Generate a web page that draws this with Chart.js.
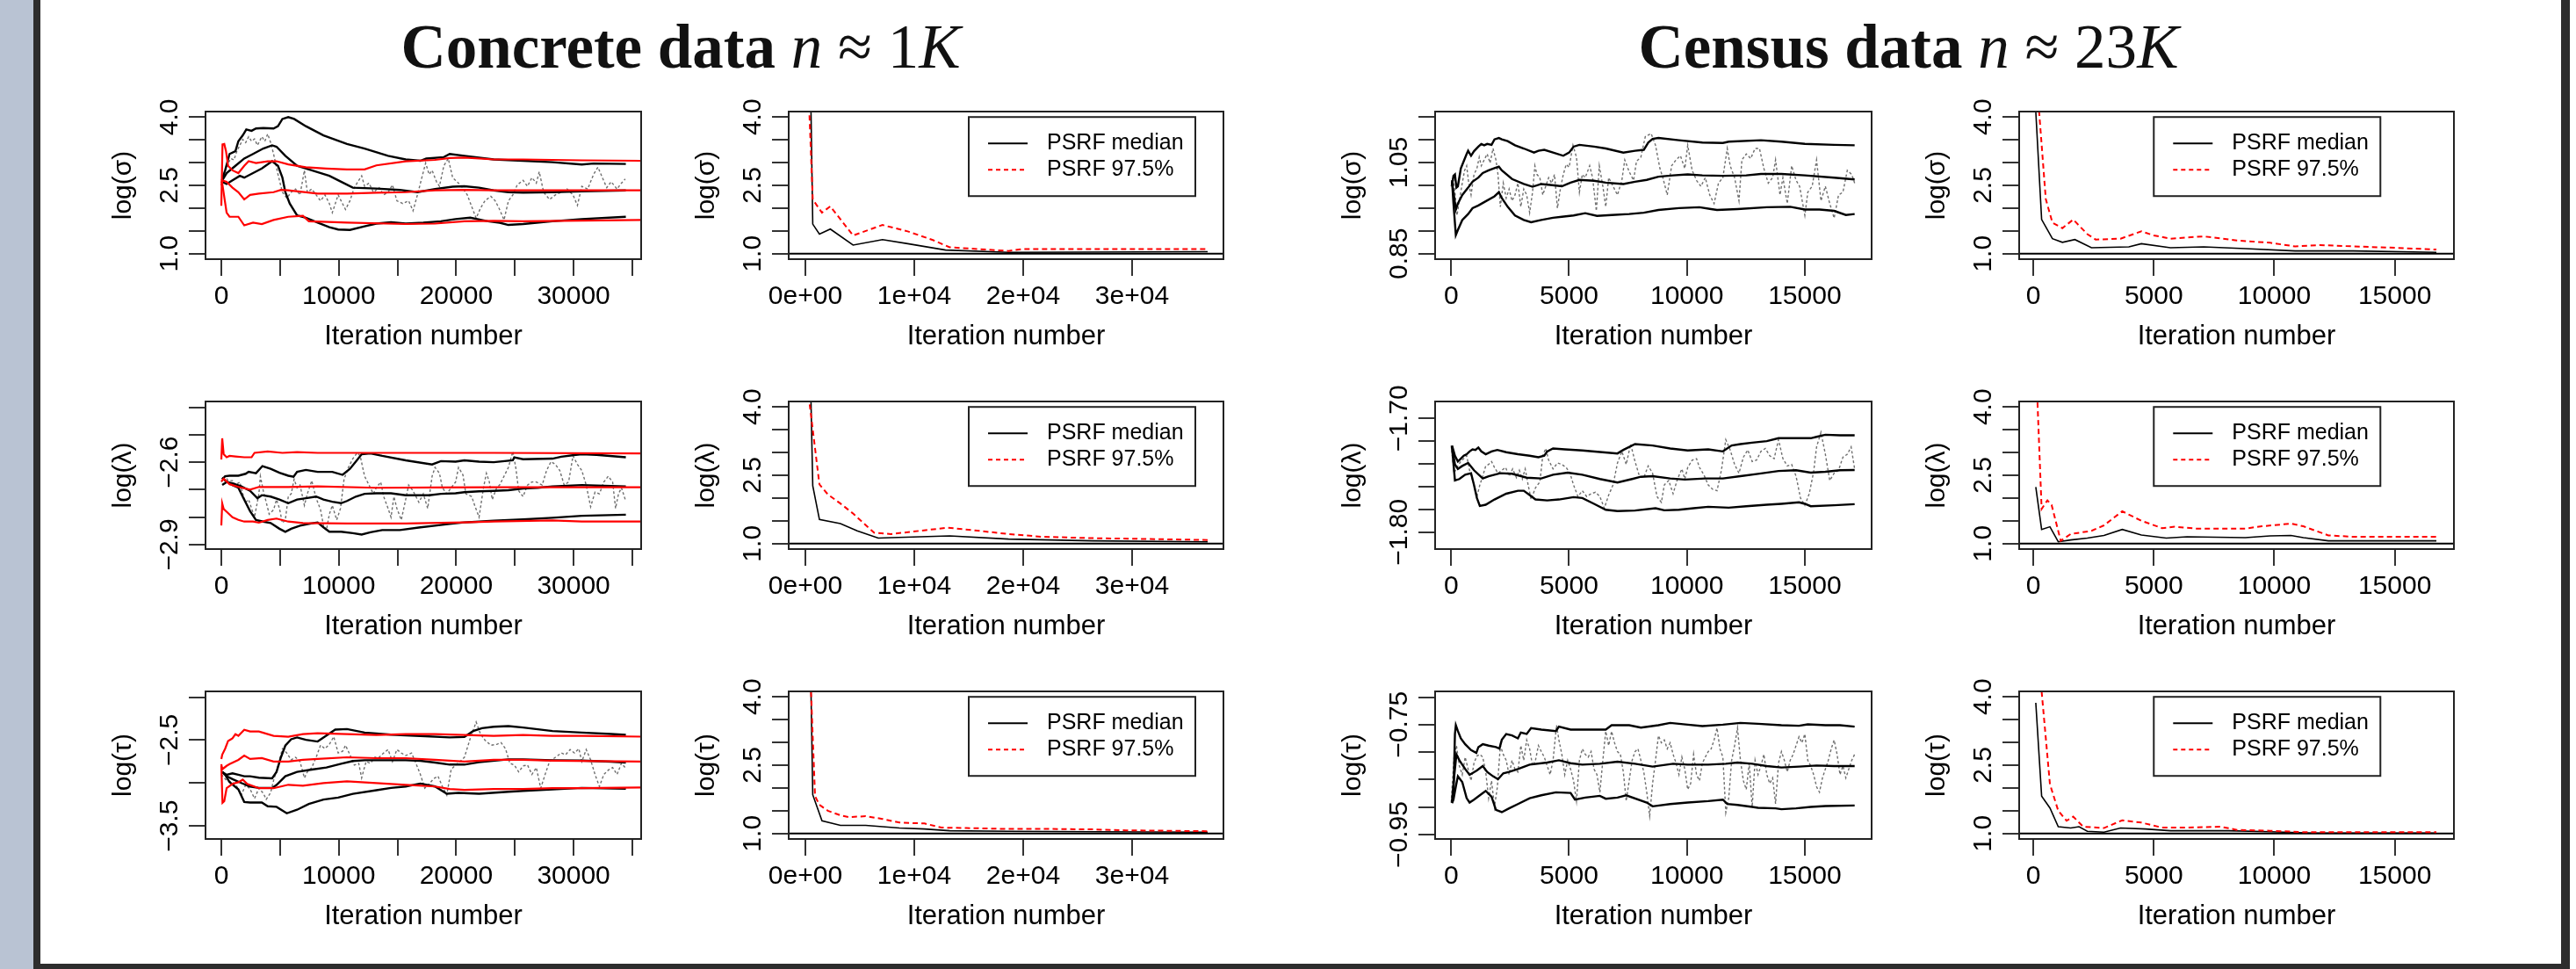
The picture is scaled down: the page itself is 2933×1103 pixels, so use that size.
<!DOCTYPE html>
<html>
<head>
<meta charset="utf-8">
<script src="https://cdn.jsdelivr.net/npm/chart.js@4.4.1/dist/chart.umd.min.js"></script>
<style>
  body { margin: 0; width: 2933px; height: 1103px; background: #fff; position: relative; overflow: hidden; }
  .bar { position: absolute; background: #2d2d2d; }
  #strip { position: absolute; left: 0; top: 0; width: 38px; height: 1103px; background: #b9c3d3; }
  .ttl { position: absolute; top: 18px; width: 900px; text-align: center; white-space: nowrap;
         font-family: "Liberation Serif", "Times New Roman", serif; font-size: 71px; line-height: 71px; color: #111; }
  .ttl b { font-weight: bold; }
  canvas { position: absolute; }
</style>
</head>
<body>
<div id="strip"></div>
<div class="bar" style="left:38px;top:0;width:8px;height:1103px"></div>
<div class="bar" style="left:2916px;top:0;width:10px;height:1103px"></div>
<div class="bar" style="left:38px;top:1097px;width:2888px;height:6px"></div>
<div class="ttl" style="left:325px"><b>Concrete data</b> <i>n</i> ≈ 1<i>K</i></div>
<div class="ttl" style="left:1723px"><b>Census data</b> <i>n</i> ≈ 23<i>K</i></div>

<script>
// ---------- tick values / labels ----------
const psrfTicks = [1, 1.5, 2, 2.5, 3, 3.5, 4];
const psrfTickLabels = ['1.0', '', '', '2.5', '', '', '4.0'];
const conLamTicks = [-2.9, -2.8, -2.7, -2.6, -2.5, -2.4];
const conLamTickLabels = ['−2.9', '', '', '−2.6', '', ''];
const conTauTicks = [-3.5, -3.0, -2.5, -2.0];
const conTauTickLabels = ['−3.5', '', '−2.5', ''];
const cenSigTicks = [0.85, 0.90, 0.95, 1.00, 1.05, 1.10, 1.15];
const cenSigTickLabels = ['0.85', '', '', '', '1.05', '', ''];
const cenLamTicks = [-1.80, -1.78, -1.76, -1.74, -1.72, -1.70];
const cenLamTickLabels = ['−1.80', '', '', '', '', '−1.70'];
const cenTauTicks = [-0.95, -0.90, -0.85, -0.80, -0.75, -0.70];
const cenTauTickLabels = ['−0.95', '', '', '', '−0.75', ''];

const concreteIterTicks = [0, 5000, 10000, 15000, 20000, 25000, 30000, 35000];
const concreteIterLabels = ['0', '', '10000', '', '20000', '', '30000', ''];
const concretePsrfIterTicks = [0, 10000, 20000, 30000];
const concretePsrfIterLabels = ['0e+00', '1e+04', '2e+04', '3e+04'];
const censusIterTicks = [0, 5000, 10000, 15000];
const censusIterLabels = ['0', '5000', '10000', '15000'];

const legendNames = ['PSRF median', 'PSRF 97.5%'];

// ---------- Concrete, log(sigma) ----------
const conSigTrace = [[0,2.61],[200,2.74],[575,2.99],[825,3.09],[1075,3.06],[1325,3.25],[1575,3.38],[1825,3.51],[2075,3.44],[2325,3.57],[2575,3.47],[2825,3.52],[3075,3.38],[3450,3.57],[3700,3.47],[3950,3.63],[4200,3.44],[4450,3.19],[4825,2.74],[5200,2.35],[5575,2.22],[5950,2.35],[6325,2.42],[6700,2.29],[7075,2.83],[7325,2.35],[7700,2.42],[8075,2.29],[8450,2.16],[8825,2.29],[9200,2.10],[9450,1.90],[9950,2.29],[10200,2.16],[10575,1.97],[10950,2.16],[11325,2.45],[11700,2.61],[11950,2.71],[12200,2.48],[12575,2.55],[12950,2.35],[13450,2.45],[13825,2.29],[14200,2.35],[14575,2.51],[14950,2.16],[15450,2.10],[15950,2.16],[16325,1.94],[16700,2.29],[17075,2.67],[17400,2.99],[17700,2.74],[17950,2.83],[18325,2.58],[18575,2.48],[18950,2.93],[19325,3.09],[19700,2.67],[20075,2.58],[20450,2.48],[20950,2.29],[21325,2.03],[21700,1.78],[22075,2.00],[22450,2.16],[22950,2.26],[23325,2.16],[23700,1.97],[24075,1.74],[24450,2.16],[24825,2.29],[25200,2.51],[25700,2.61],[26075,2.48],[26450,2.67],[26825,2.55],[27075,2.80],[27450,2.35],[27950,2.19],[28450,2.29],[28950,2.35],[29450,2.42],[29950,2.29],[30325,2.06],[30700,2.48],[31200,2.42],[31700,2.74],[32075,2.90],[32450,2.67],[32825,2.45],[33200,2.58],[33700,2.42],[34075,2.55],[34400,2.64]];
const conSigHi = [[75,2.64],[325,2.83],[700,3.19],[1200,3.25],[1450,3.47],[1825,3.60],[2125,3.73],[2575,3.70],[2950,3.75],[3575,3.76],[4450,3.75],[4825,3.80],[5200,3.96],[5700,4.00],[6200,3.96],[7200,3.80],[8700,3.60],[10700,3.41],[12200,3.31],[14200,3.15],[15700,3.07],[16950,3.04],[17450,3.09],[18950,3.12],[19450,3.19],[20700,3.15],[23200,3.07],[25700,3.04],[28200,3.01],[30700,2.96],[31700,2.98],[34450,2.97]];
const conSigMid = [[75,2.61],[450,2.77],[1200,2.93],[1950,3.09],[2700,3.19],[3575,3.31],[4325,3.38],[4700,3.35],[5450,3.15],[6450,2.93],[7700,2.83],[9200,2.71],[10200,2.58],[11200,2.45],[13200,2.43],[15200,2.40],[16700,2.35],[18200,2.42],[19700,2.47],[20700,2.48],[21950,2.45],[23200,2.39],[24450,2.35],[25700,2.34],[28200,2.35],[30700,2.37],[34450,2.39]];
const conSigLo = [[75,2.58],[450,2.53],[950,2.61],[1575,2.71],[1950,2.67],[2700,2.77],[3450,2.87],[4325,3.03],[4825,2.93],[5200,2.67],[5450,2.35],[5825,2.10],[6450,1.84],[7200,1.79],[8200,1.68],[9200,1.58],[9950,1.53],[10950,1.52],[12200,1.60],[13200,1.66],[14450,1.69],[15700,1.66],[17200,1.68],[18700,1.71],[19950,1.76],[21200,1.79],[22700,1.71],[23700,1.68],[24450,1.63],[25700,1.65],[28200,1.71],[30700,1.76],[34450,1.81]];
const conSigRedHi = [[0,2.05],[100,3.40],[250,3.41],[400,3.25],[575,2.93],[950,2.83],[1450,2.77],[1950,2.93],[2325,3.03],[2950,2.99],[3950,3.03],[4700,3.03],[5700,2.96],[7200,2.90],[8950,2.87],[10700,2.85],[12200,2.85],[13200,2.94],[15700,3.03],[18200,3.06],[19450,3.10],[20700,3.11],[23200,3.07],[25700,3.07],[28200,3.06],[30700,3.05],[36000,3.04]];
const conSigRedMid = [[0,2.55],[75,2.61],[450,2.58],[950,2.45],[1450,2.35],[1950,2.19],[2450,2.29],[3200,2.32],[4450,2.35],[5075,2.40],[5700,2.39],[8200,2.32],[10700,2.32],[13200,2.34],[15700,2.35],[18200,2.39],[20700,2.40],[23200,2.39],[36000,2.39]];
const conSigRedLo = [[0,2.50],[75,2.55],[450,1.90],[700,1.81],[1450,1.81],[1950,1.62],[2700,1.68],[3450,1.65],[4450,1.74],[5700,1.81],[6950,1.83],[7450,1.71],[10700,1.68],[15700,1.65],[18200,1.66],[20700,1.71],[23200,1.72],[25700,1.71],[36000,1.74]];
const conSigPsrfMed = [[400,5.9],[677,1.65],[1290,1.43],[2290,1.54],[4379,1.19],[7081,1.31],[9395,1.22],[12871,1.08],[18653,1.03],[36935,1.045]];
const conSigPsrf975 = [[250,4.81],[677,2.19],[1524,1.90],[2290,2.04],[4379,1.40],[7081,1.63],[9395,1.49],[11710,1.30],[13250,1.14],[18653,1.06],[19814,1.10],[36935,1.10]];

// ---------- Concrete, log(lambda) ----------
const conLamTrace = [[0,-2.672],[325,-2.651],[575,-2.667],[950,-2.667],[1200,-2.683],[1575,-2.672],[1825,-2.715],[2075,-2.746],[2325,-2.736],[2575,-2.768],[2825,-2.80],[3200,-2.715],[3325,-2.651],[3575,-2.704],[3825,-2.746],[4075,-2.789],[4450,-2.773],[4700,-2.736],[4950,-2.768],[5200,-2.821],[5450,-2.81],[5700,-2.725],[5950,-2.715],[6200,-2.662],[6450,-2.693],[6700,-2.683],[7075,-2.757],[7325,-2.715],[7700,-2.667],[8075,-2.731],[8450,-2.773],[8700,-2.831],[8950,-2.847],[9200,-2.789],[9450,-2.757],[9825,-2.81],[10150,-2.768],[10450,-2.662],[10825,-2.619],[11200,-2.587],[11575,-2.566],[11825,-2.577],[12200,-2.651],[12575,-2.683],[12950,-2.715],[13200,-2.693],[13575,-2.672],[13825,-2.725],[14200,-2.768],[14450,-2.80],[14700,-2.725],[14950,-2.768],[15325,-2.81],[15700,-2.736],[15950,-2.683],[16325,-2.704],[16825,-2.746],[17200,-2.715],[17575,-2.768],[17950,-2.651],[18200,-2.619],[18575,-2.640],[18825,-2.693],[19200,-2.715],[19575,-2.693],[19950,-2.672],[20200,-2.619],[20575,-2.646],[20825,-2.715],[21325,-2.725],[21575,-2.757],[21950,-2.80],[22325,-2.693],[22575,-2.640],[22825,-2.672],[23075,-2.736],[23450,-2.693],[23700,-2.683],[24075,-2.651],[24450,-2.619],[24825,-2.561],[25075,-2.619],[25325,-2.704],[25700,-2.725],[26075,-2.683],[26450,-2.672],[26825,-2.672],[27325,-2.683],[27700,-2.630],[28075,-2.598],[28450,-2.608],[28825,-2.630],[29200,-2.683],[29575,-2.672],[29950,-2.577],[30325,-2.608],[30700,-2.630],[31075,-2.683],[31450,-2.762],[31825,-2.709],[32200,-2.715],[32575,-2.672],[32950,-2.651],[33325,-2.672],[33575,-2.768],[33825,-2.715],[34075,-2.693],[34400,-2.736]];
const conLamHi = [[75,-2.662],[325,-2.651],[700,-2.649],[1450,-2.649],[2075,-2.642],[2325,-2.635],[2950,-2.640],[3500,-2.614],[4200,-2.624],[4950,-2.638],[5700,-2.649],[6150,-2.653],[6450,-2.635],[7200,-2.628],[8200,-2.635],[9450,-2.635],[10325,-2.646],[10950,-2.624],[11450,-2.598],[11950,-2.571],[12700,-2.568],[13700,-2.577],[15700,-2.593],[17950,-2.608],[18700,-2.596],[19950,-2.598],[20700,-2.593],[21950,-2.598],[23200,-2.600],[24825,-2.593],[24950,-2.582],[25700,-2.589],[28200,-2.587],[28950,-2.580],[30200,-2.573],[30700,-2.571],[31950,-2.573],[34450,-2.582]];
const conLamMid = [[75,-2.683],[450,-2.672],[950,-2.677],[1700,-2.688],[2450,-2.704],[3075,-2.731],[3450,-2.720],[4200,-2.725],[4950,-2.736],[5700,-2.749],[6450,-2.736],[7200,-2.731],[8075,-2.725],[8700,-2.736],[9450,-2.744],[10200,-2.749],[10700,-2.741],[11450,-2.725],[12200,-2.715],[13200,-2.713],[14450,-2.713],[15700,-2.720],[17700,-2.720],[18700,-2.715],[19950,-2.713],[20700,-2.709],[21950,-2.706],[23200,-2.704],[24450,-2.702],[25700,-2.696],[26950,-2.693],[28200,-2.688],[29450,-2.686],[30700,-2.683],[31950,-2.685],[34450,-2.688]];
const conLamLo = [[75,-2.656],[325,-2.667],[950,-2.683],[1450,-2.693],[1950,-2.736],[2450,-2.778],[2950,-2.81],[3575,-2.816],[4200,-2.821],[4950,-2.842],[5450,-2.853],[5950,-2.842],[6700,-2.831],[7450,-2.824],[8200,-2.819],[8700,-2.837],[9200,-2.853],[10200,-2.853],[11200,-2.858],[11950,-2.863],[12700,-2.855],[13700,-2.847],[15200,-2.847],[16950,-2.837],[18200,-2.831],[19450,-2.824],[20700,-2.819],[21950,-2.816],[23200,-2.813],[25700,-2.808],[28200,-2.802],[30700,-2.795],[34450,-2.791]];
const conLamRedHi = [[0,-2.59],[75,-2.513],[200,-2.571],[450,-2.582],[700,-2.577],[1200,-2.579],[1950,-2.582],[2575,-2.582],[2825,-2.566],[3950,-2.561],[5200,-2.566],[6450,-2.563],[8200,-2.566],[10700,-2.566],[15700,-2.566],[23200,-2.566],[36000,-2.568]];
const conLamRedMid = [[0,-2.67],[200,-2.66],[700,-2.68],[1450,-2.69],[2450,-2.70],[3200,-2.69],[5700,-2.69],[8200,-2.688],[13200,-2.693],[18200,-2.692],[23200,-2.691],[36000,-2.691]];
const conLamRedLo = [[0,-2.83],[75,-2.75],[200,-2.77],[450,-2.78],[950,-2.80],[1450,-2.81],[1950,-2.816],[2700,-2.816],[3200,-2.82],[3950,-2.81],[4700,-2.805],[5700,-2.816],[6950,-2.821],[10700,-2.823],[15700,-2.823],[20700,-2.819],[23200,-2.816],[28200,-2.812],[30700,-2.816],[36000,-2.816]];
const conLamPsrfMed = [[400,5.45],[677,2.27],[1290,1.53],[3218,1.44],[4758,1.28],[6694,1.12],[7855,1.13],[13250,1.17],[18653,1.10],[26370,1.06],[36935,1.04]];
const conLamPsrf975 = [[200,4.44],[1290,2.30],[2064,2.08],[3218,1.88],[4379,1.66],[6306,1.24],[7855,1.21],[13097,1.35],[15565,1.29],[18653,1.21],[21742,1.15],[26370,1.12],[36935,1.08]];

// ---------- Concrete, log(tau) ----------
const conTauTrace = [[0,-2.90],[450,-2.97],[950,-2.99],[1325,-3.04],[1700,-3.14],[2075,-3.02],[2450,-3.07],[2825,-3.18],[3200,-3.06],[3575,-3.12],[3825,-3.19],[4200,-3.11],[4450,-2.97],[4825,-2.80],[5200,-2.60],[5575,-2.65],[5950,-2.73],[6325,-2.70],[6700,-2.75],[7075,-2.94],[7325,-2.87],[7700,-2.82],[8075,-2.70],[8450,-2.56],[8825,-2.60],[9200,-2.55],[9575,-2.46],[9950,-2.65],[10325,-2.63],[10575,-2.56],[10950,-2.67],[11325,-2.79],[11700,-2.77],[11950,-2.94],[12325,-2.75],[12700,-2.77],[13075,-2.70],[13450,-2.70],[13825,-2.65],[14200,-2.61],[14575,-2.75],[14950,-2.61],[15325,-2.65],[15700,-2.68],[16200,-2.65],[16575,-2.77],[16950,-2.90],[17325,-3.06],[17700,-3.01],[18075,-2.95],[18450,-2.92],[18825,-3.04],[19200,-3.14],[19575,-2.84],[19950,-2.79],[20325,-2.75],[20700,-2.70],[21200,-2.48],[21700,-2.29],[22075,-2.43],[22450,-2.50],[22950,-2.56],[23450,-2.55],[23825,-2.53],[24200,-2.60],[24575,-2.77],[24950,-2.79],[25325,-2.87],[25700,-2.80],[26075,-2.79],[26450,-2.90],[26825,-2.82],[27200,-3.06],[27575,-2.90],[27950,-2.75],[28450,-2.70],[28950,-2.65],[29325,-2.67],[29700,-2.61],[30075,-2.65],[30450,-2.60],[30700,-2.75],[31075,-2.61],[31450,-2.73],[31825,-2.90],[32200,-3.04],[32575,-2.90],[32950,-2.85],[33325,-2.82],[33700,-2.90],[34075,-2.77],[34400,-2.82]];
const conTauHi = [[75,-2.870],[450,-2.904],[950,-2.887],[1450,-2.904],[1950,-2.921],[2450,-2.921],[3200,-2.938],[4325,-2.945],[4700,-2.870],[5075,-2.700],[5450,-2.564],[5950,-2.490],[6450,-2.469],[7200,-2.497],[8200,-2.517],[8950,-2.446],[9700,-2.378],[10700,-2.371],[12200,-2.412],[14450,-2.436],[16950,-2.452],[19450,-2.469],[20700,-2.463],[21450,-2.395],[22200,-2.361],[23200,-2.344],[24450,-2.337],[25700,-2.354],[28200,-2.395],[30700,-2.412],[33200,-2.429],[34450,-2.439]];
const conTauMid = [[75,-2.870],[450,-2.921],[950,-2.955],[1700,-2.999],[2450,-3.040],[3200,-3.057],[4325,-3.057],[4700,-3.023],[5450,-2.921],[6450,-2.870],[7700,-2.843],[8950,-2.819],[10200,-2.775],[11200,-2.744],[12200,-2.734],[13700,-2.734],[15700,-2.734],[16950,-2.741],[18200,-2.761],[19450,-2.785],[20700,-2.785],[21950,-2.758],[24450,-2.724],[25700,-2.724],[28200,-2.734],[30700,-2.738],[33200,-2.751],[34450,-2.761]];
const conTauLo = [[75,-2.870],[325,-2.904],[700,-2.989],[1450,-3.074],[1950,-3.220],[2450,-3.226],[3450,-3.226],[3950,-3.270],[4700,-3.277],[5575,-3.352],[6450,-3.311],[7450,-3.243],[8700,-3.192],[9950,-3.169],[11200,-3.125],[13200,-3.084],[14450,-3.057],[15700,-3.040],[16950,-3.006],[18200,-3.040],[19200,-3.125],[20200,-3.114],[21950,-3.125],[24450,-3.101],[25700,-3.091],[28200,-3.074],[30700,-3.057],[34450,-3.067]];
const conTauRedHi = [[0,-2.72],[75,-2.67],[325,-2.60],[575,-2.51],[700,-2.50],[950,-2.48],[1200,-2.43],[1450,-2.45],[1950,-2.38],[2450,-2.40],[3200,-2.40],[4450,-2.45],[5700,-2.46],[6950,-2.43],[8200,-2.42],[10700,-2.43],[13200,-2.44],[15700,-2.43],[18200,-2.43],[20700,-2.44],[23200,-2.45],[25700,-2.44],[28200,-2.45],[30700,-2.45],[36000,-2.46]];
const conTauRedMid = [[0,-2.78],[75,-2.84],[450,-2.80],[700,-2.78],[1450,-2.73],[1950,-2.68],[2450,-2.72],[3450,-2.71],[4450,-2.75],[5700,-2.75],[6950,-2.73],[8200,-2.72],[10700,-2.70],[13200,-2.71],[15700,-2.71],[18200,-2.73],[20700,-2.75],[23200,-2.73],[25700,-2.73],[28200,-2.74],[36000,-2.75]];
const conTauRedLo = [[0,-2.80],[100,-3.23],[250,-3.21],[450,-3.06],[950,-3.01],[1450,-2.99],[1825,-2.96],[2200,-3.01],[3200,-3.06],[4450,-3.06],[5700,-3.02],[6950,-3.03],[8700,-3.00],[10700,-2.98],[13200,-3.00],[15700,-3.02],[18200,-3.04],[19450,-3.07],[20700,-3.08],[23200,-3.07],[25700,-3.07],[28200,-3.06],[30700,-3.06],[36000,-3.05]];
const conTauPsrfMed = [[400,5.76],[677,1.85],[1524,1.28],[3218,1.18],[5532,1.18],[8629,1.12],[10935,1.10],[13250,1.06],[18653,1.05],[26370,1.04],[36935,1.03]];
const conTauPsrf975 = [[300,5.46],[887,1.82],[1290,1.63],[2064,1.50],[3218,1.40],[3992,1.36],[5532,1.38],[7081,1.32],[8629,1.24],[10935,1.22],[12484,1.13],[14798,1.12],[18653,1.10],[22500,1.10],[26370,1.09],[29450,1.07],[36935,1.05]];

// ---------- Census, log(sigma) ----------
const cenSigTrace = [[0,0.998],[75,1.017],[161,0.985],[248,0.934],[348,0.966],[472,1.005],[571,1.033],[658,1.043],[745,1.005],[845,0.979],[969,1.024],[1093,1.037],[1192,1.062],[1279,1.043],[1403,1.056],[1528,1.069],[1652,1.049],[1776,1.081],[1900,1.056],[1987,1.024],[2087,0.953],[2211,1.005],[2335,0.972],[2459,0.992],[2583,0.966],[2708,0.979],[2832,1.005],[2956,0.953],[3080,0.992],[3204,0.979],[3329,0.940],[3453,0.985],[3552,1.043],[3639,1.024],[3763,1.017],[3887,0.979],[4012,0.998],[4136,1.017],[4260,1.005],[4384,1.024],[4508,0.950],[4633,0.992],[4757,1.024],[4881,1.046],[5005,1.040],[5167,1.088],[5316,1.062],[5440,0.985],[5564,1.024],[5688,1.017],[5875,1.043],[5999,1.017],[6160,0.944],[6285,1.043],[6434,0.998],[6558,0.953],[6682,1.017],[6868,0.998],[7055,0.979],[7241,1.011],[7365,1.056],[7551,1.030],[7738,1.011],[7862,1.053],[8048,1.062],[8235,1.107],[8483,1.114],[8669,1.088],[8856,1.037],[8980,1.017],[9166,0.979],[9352,1.043],[9539,1.056],[9725,1.065],[9911,1.037],[10035,1.088],[10222,1.033],[10408,1.011],[10594,0.998],[10781,1.017],[10967,0.979],[11153,0.960],[11340,1.005],[11526,1.017],[11712,1.081],[11836,1.043],[12023,1.017],[12209,0.966],[12333,1.056],[12519,1.069],[12706,1.059],[12892,1.081],[13078,1.081],[13265,1.037],[13451,1.005],[13637,1.017],[13761,1.056],[13948,0.979],[14072,1.017],[14258,0.960],[14444,1.043],[14631,1.011],[14780,0.998],[15003,0.934],[15128,0.985],[15314,0.998],[15500,1.056],[15687,0.966],[15873,0.998],[16059,0.960],[16245,0.928],[16432,0.979],[16618,0.985],[16804,1.033],[16991,1.024],[17115,1.005]];
const cenSigHi = [[37,1.001],[99,1.021],[161,1.024],[224,0.995],[286,0.998],[410,1.037],[534,1.053],[658,1.069],[720,1.076],[845,1.065],[969,1.075],[1155,1.085],[1279,1.091],[1403,1.088],[1528,1.091],[1714,1.089],[1838,1.101],[2024,1.104],[2149,1.101],[2397,1.097],[2708,1.088],[3080,1.081],[3515,1.072],[3701,1.076],[3950,1.078],[4322,1.072],[4757,1.065],[5005,1.072],[5192,1.085],[5440,1.089],[6061,1.085],[6558,1.081],[7303,1.072],[7800,1.076],[8172,1.078],[8359,1.094],[8545,1.102],[8793,1.104],[9663,1.099],[10656,1.094],[11526,1.093],[11774,1.096],[13140,1.099],[14010,1.096],[15003,1.091],[16245,1.089],[17115,1.088]];
const cenSigMid = [[37,1.008],[99,0.985],[199,0.947],[286,0.960],[472,0.979],[720,0.995],[907,1.008],[1155,1.017],[1341,1.027],[1590,1.033],[1838,1.038],[2024,1.041],[2149,1.033],[2583,1.014],[3080,1.003],[3453,0.997],[3825,1.003],[4198,1.001],[4695,0.998],[5067,1.006],[5440,1.012],[6061,1.010],[6558,1.006],[7303,1.003],[7800,1.008],[8297,1.012],[8793,1.019],[9414,1.022],[10035,1.024],[10656,1.022],[11526,1.021],[12519,1.022],[13140,1.025],[14010,1.025],[15003,1.022],[16245,1.017],[17115,1.013]];
const cenSigLo = [[37,1.011],[99,0.960],[199,0.891],[286,0.902],[472,0.924],[720,0.937],[907,0.950],[1155,0.956],[1466,0.965],[1838,0.976],[2024,0.985],[2149,0.972],[2397,0.953],[2708,0.934],[3080,0.924],[3391,0.919],[3825,0.924],[4322,0.929],[4695,0.931],[5192,0.934],[5688,0.939],[6185,0.933],[6806,0.935],[7551,0.937],[8172,0.940],[8793,0.946],[9663,0.950],[10532,0.952],[11029,0.948],[11277,0.946],[12147,0.948],[13389,0.952],[14382,0.953],[15003,0.947],[15624,0.947],[16245,0.944],[16742,0.935],[17115,0.937]];
const cenSigPsrfMed = [[60,4.54],[345,1.75],[793,1.33],[1207,1.25],[1725,1.31],[2414,1.13],[3966,1.15],[4484,1.22],[5691,1.13],[7071,1.15],[8795,1.11],[10864,1.06],[13279,1.06],[16728,1.03]];
const cenSigPsrf975 = [[100,5.10],[517,2.20],[793,1.68],[1207,1.56],[1656,1.75],[2242,1.43],[2587,1.31],[3621,1.33],[4484,1.49],[5001,1.40],[5691,1.33],[7071,1.38],[8450,1.29],[9830,1.24],[10864,1.16],[11899,1.19],[13279,1.16],[15003,1.13],[16728,1.09]];

// ---------- Census, log(lambda) ----------
const cenLamTrace = [[0,-1.7238],[124,-1.7482],[248,-1.7431],[410,-1.7379],[534,-1.7354],[658,-1.7328],[782,-1.7456],[969,-1.7585],[1093,-1.7687],[1217,-1.7585],[1341,-1.7508],[1466,-1.7418],[1590,-1.7405],[1714,-1.7379],[1838,-1.7431],[1987,-1.7482],[2149,-1.7456],[2310,-1.7431],[2459,-1.7508],[2608,-1.7444],[2770,-1.7521],[2894,-1.7456],[3018,-1.7533],[3142,-1.7444],[3266,-1.7585],[3391,-1.7713],[3577,-1.761],[3763,-1.7559],[3887,-1.7328],[4012,-1.7264],[4136,-1.7367],[4322,-1.7444],[4508,-1.7392],[4695,-1.7405],[4881,-1.7431],[5042,-1.7482],[5192,-1.7585],[5378,-1.7687],[5564,-1.7636],[5750,-1.7687],[5937,-1.7662],[6123,-1.7649],[6309,-1.7687],[6496,-1.779],[6682,-1.7674],[6868,-1.7585],[7055,-1.7392],[7241,-1.729],[7427,-1.7405],[7613,-1.7226],[7800,-1.7379],[7986,-1.7508],[8172,-1.7521],[8359,-1.7418],[8545,-1.7482],[8731,-1.7687],[8918,-1.7738],[9042,-1.7585],[9228,-1.7546],[9414,-1.7662],[9601,-1.7533],[9787,-1.7444],[9911,-1.7533],[10035,-1.7431],[10222,-1.7367],[10408,-1.7354],[10532,-1.7431],[10718,-1.7495],[10905,-1.7585],[11091,-1.7623],[11277,-1.7636],[11464,-1.7456],[11650,-1.7187],[11836,-1.7277],[12023,-1.7405],[12209,-1.7482],[12395,-1.7341],[12582,-1.7277],[12768,-1.7379],[12954,-1.7367],[13140,-1.729],[13327,-1.7264],[13513,-1.7328],[13699,-1.7354],[13886,-1.7187],[14072,-1.7354],[14258,-1.7418],[14444,-1.7405],[14631,-1.7508],[14817,-1.77],[15003,-1.7764],[15190,-1.7662],[15376,-1.7469],[15500,-1.7251],[15686,-1.7123],[15873,-1.7315],[16059,-1.7546],[16245,-1.7482],[16432,-1.7456],[16618,-1.7341],[16804,-1.7315],[16966,-1.7251],[17115,-1.7444]];
const cenLamHi = [[37,-1.7238],[161,-1.7328],[286,-1.7379],[410,-1.7354],[534,-1.7328],[658,-1.7315],[782,-1.729],[907,-1.7272],[1031,-1.7277],[1155,-1.7256],[1279,-1.729],[1466,-1.7315],[1714,-1.729],[1962,-1.7277],[2335,-1.7297],[2832,-1.7315],[3329,-1.7328],[3701,-1.7341],[3950,-1.7328],[4074,-1.729],[4322,-1.7264],[4819,-1.7272],[5564,-1.7282],[6309,-1.7295],[7055,-1.7308],[7303,-1.7277],[7800,-1.7226],[8545,-1.7238],[9290,-1.7264],[10035,-1.7282],[10905,-1.7272],[11526,-1.729],[11898,-1.7238],[12271,-1.7226],[12768,-1.7213],[13389,-1.72],[13886,-1.7174],[14507,-1.7174],[15252,-1.7174],[15500,-1.7162],[15873,-1.7144],[16494,-1.7149],[17115,-1.7149]];
const cenLamMid = [[37,-1.7246],[161,-1.7405],[286,-1.7444],[472,-1.7418],[720,-1.7392],[969,-1.7456],[1341,-1.7528],[1590,-1.7508],[2087,-1.7482],[2583,-1.7487],[3204,-1.7521],[3825,-1.7528],[4322,-1.7495],[4943,-1.7477],[5564,-1.7495],[6309,-1.7533],[7055,-1.7564],[7676,-1.7533],[8048,-1.7513],[8545,-1.7508],[9290,-1.7528],[9911,-1.7538],[10781,-1.7528],[11526,-1.7528],[12271,-1.7508],[13016,-1.7487],[13886,-1.7462],[14631,-1.7456],[15252,-1.7477],[15873,-1.7469],[16494,-1.7456],[17115,-1.7454]];
const cenLamLo = [[37,-1.7251],[161,-1.7546],[348,-1.7533],[596,-1.7495],[845,-1.7482],[969,-1.7585],[1093,-1.77],[1217,-1.7769],[1466,-1.7759],[1838,-1.7713],[2335,-1.7662],[2832,-1.7636],[3080,-1.7636],[3329,-1.7674],[3577,-1.7713],[4074,-1.7721],[4571,-1.7713],[5192,-1.7692],[5564,-1.77],[6061,-1.7751],[6558,-1.7803],[7055,-1.7815],[7800,-1.781],[8669,-1.779],[9042,-1.7808],[9663,-1.7803],[10284,-1.779],[10905,-1.7777],[11774,-1.7785],[12519,-1.7772],[13389,-1.7759],[14010,-1.7751],[14755,-1.7738],[15003,-1.7751],[15252,-1.7772],[16245,-1.7764],[17115,-1.7754]];
const cenLamPsrfMed = [[103,2.24],[345,1.31],[690,1.37],[1035,1.04],[1552,1.08],[2242,1.12],[2932,1.18],[3690,1.31],[4484,1.19],[5518,1.12],[6381,1.15],[8795,1.13],[9830,1.17],[10692,1.18],[11209,1.13],[12244,1.06],[13968,1.06],[16728,1.06]];
const cenLamPsrf975 = [[60,5.64],[345,1.76],[586,1.95],[759,1.85],[1138,1.06],[1552,1.21],[2414,1.28],[2932,1.40],[3690,1.71],[4484,1.50],[5346,1.34],[5863,1.37],[6726,1.33],[8795,1.33],[9485,1.38],[10692,1.44],[11209,1.38],[12244,1.18],[13279,1.15],[16728,1.15]];

// ---------- Census, log(tau) ----------
const cenTauTrace = [[0,-0.892],[124,-0.809],[224,-0.788],[348,-0.825],[472,-0.841],[596,-0.809],[720,-0.831],[845,-0.852],[969,-0.820],[1093,-0.807],[1217,-0.804],[1341,-0.809],[1466,-0.836],[1590,-0.884],[1714,-0.852],[1838,-0.900],[1962,-0.863],[2087,-0.788],[2211,-0.804],[2335,-0.815],[2459,-0.841],[2583,-0.815],[2708,-0.831],[2832,-0.836],[2956,-0.788],[3080,-0.815],[3204,-0.778],[3329,-0.794],[3453,-0.825],[3577,-0.815],[3701,-0.788],[3825,-0.799],[3950,-0.809],[4074,-0.825],[4198,-0.841],[4322,-0.815],[4471,-0.751],[4571,-0.778],[4695,-0.804],[4819,-0.841],[4943,-0.815],[5067,-0.831],[5192,-0.852],[5316,-0.889],[5440,-0.815],[5564,-0.794],[5688,-0.804],[5813,-0.809],[5937,-0.799],[6061,-0.831],[6185,-0.841],[6309,-0.873],[6434,-0.815],[6558,-0.762],[6682,-0.788],[6806,-0.762],[6930,-0.783],[7055,-0.799],[7179,-0.804],[7303,-0.836],[7427,-0.889],[7551,-0.852],[7676,-0.815],[7800,-0.799],[7924,-0.794],[8048,-0.815],[8172,-0.836],[8297,-0.873],[8421,-0.916],[8545,-0.857],[8669,-0.815],[8793,-0.770],[8918,-0.783],[9042,-0.778],[9166,-0.794],[9290,-0.783],[9414,-0.804],[9539,-0.820],[9663,-0.841],[9787,-0.809],[9911,-0.831],[10035,-0.868],[10160,-0.857],[10284,-0.804],[10408,-0.841],[10532,-0.852],[10656,-0.820],[10781,-0.809],[10905,-0.799],[11029,-0.794],[11153,-0.778],[11277,-0.756],[11402,-0.794],[11526,-0.809],[11650,-0.910],[11774,-0.884],[11898,-0.815],[12023,-0.788],[12147,-0.756],[12271,-0.815],[12395,-0.852],[12519,-0.868],[12644,-0.820],[12768,-0.900],[12892,-0.815],[13016,-0.841],[13140,-0.825],[13265,-0.804],[13389,-0.841],[13513,-0.857],[13637,-0.847],[13761,-0.894],[13886,-0.820],[14010,-0.799],[14134,-0.815],[14258,-0.836],[14382,-0.815],[14507,-0.804],[14631,-0.788],[14755,-0.772],[14879,-0.783],[15003,-0.767],[15128,-0.815],[15252,-0.825],[15376,-0.841],[15500,-0.863],[15624,-0.873],[15749,-0.847],[15873,-0.831],[15997,-0.815],[16121,-0.794],[16245,-0.778],[16370,-0.804],[16494,-0.841],[16618,-0.825],[16742,-0.847],[16866,-0.831],[16991,-0.815],[17115,-0.804]];
const cenTauHi = [[37,-0.8917],[99,-0.8785],[161,-0.767],[199,-0.7511],[286,-0.7617],[410,-0.775],[596,-0.7856],[845,-0.7962],[1068,-0.8015],[1155,-0.7909],[1341,-0.7856],[1590,-0.7882],[1900,-0.7909],[2049,-0.7935],[2149,-0.7776],[2335,-0.767],[2583,-0.7696],[2832,-0.775],[2956,-0.7643],[3204,-0.767],[3391,-0.7564],[3825,-0.759],[4446,-0.7617],[4571,-0.7537],[5067,-0.759],[5937,-0.759],[6558,-0.759],[6806,-0.7511],[7551,-0.7511],[8048,-0.7553],[8793,-0.7511],[9290,-0.7468],[10035,-0.75],[10656,-0.7527],[11526,-0.75],[12271,-0.7468],[13016,-0.7484],[14010,-0.7511],[14755,-0.7521],[15128,-0.7495],[15873,-0.7511],[16494,-0.7511],[17115,-0.7537]];
const cenTauMid = [[37,-0.8891],[99,-0.8572],[224,-0.8041],[348,-0.8148],[596,-0.8307],[782,-0.8413],[1093,-0.8333],[1341,-0.8254],[1528,-0.836],[1776,-0.8439],[1987,-0.8493],[2211,-0.8386],[2459,-0.836],[2832,-0.8307],[3329,-0.8227],[4074,-0.819],[4571,-0.8148],[5067,-0.8201],[5564,-0.8227],[6309,-0.8211],[7055,-0.8174],[7800,-0.8211],[8545,-0.8264],[9414,-0.8211],[10035,-0.8227],[10905,-0.8227],[11650,-0.8211],[12147,-0.819],[12768,-0.8211],[13389,-0.8254],[14010,-0.828],[14755,-0.8264],[15500,-0.8243],[16245,-0.8254],[17115,-0.8254]];
const cenTauLo = [[37,-0.8928],[99,-0.8864],[199,-0.8625],[286,-0.8439],[472,-0.8546],[658,-0.8838],[782,-0.8917],[969,-0.8864],[1217,-0.8785],[1466,-0.8705],[1714,-0.8811],[1900,-0.905],[2149,-0.9092],[2459,-0.9023],[2832,-0.8944],[3329,-0.8838],[3825,-0.8785],[4446,-0.8731],[5067,-0.8742],[5254,-0.8864],[5688,-0.8827],[6309,-0.8795],[6558,-0.8848],[7055,-0.8827],[7427,-0.8785],[8297,-0.8917],[8545,-0.8986],[9290,-0.8944],[10035,-0.8917],[10905,-0.8891],[11526,-0.8864],[11712,-0.8944],[12147,-0.896],[12768,-0.8997],[13016,-0.9013],[13761,-0.9023],[14010,-0.9039],[14631,-0.9023],[15252,-0.8997],[15873,-0.8981],[17115,-0.897]];
const cenTauPsrfMed = [[103,3.87],[345,1.82],[690,1.56],[1035,1.15],[1552,1.12],[1897,1.15],[2242,1.05],[2932,1.03],[3621,1.12],[4656,1.10],[5691,1.06],[8105,1.06],[9830,1.04],[11554,1.01],[16728,1.01]];
const cenTauPsrf975 = [[150,5.27],[690,2.08],[1035,1.50],[1380,1.28],[1656,1.37],[2069,1.15],[2932,1.12],[3690,1.29],[4484,1.24],[5346,1.13],[6381,1.13],[7760,1.15],[8450,1.08],[9830,1.06],[11209,1.03],[16728,1.03]];

// ---------- layout ----------
const COLS = [{ L: 234, R: 730 }, { L: 898, R: 1393 }, { L: 1634, R: 2131 }, { L: 2299, R: 2794 }];
const ROWS = [127, 457, 787];
const BOX_H = 168, YW = 115, PT = 26, PR = 12, XH = 111;
const FONT = '"Liberation Sans", Arial, sans-serif';

const framePlugin = {
  id: 'frame',
  afterDraw(chart, args, opts) {
    const { ctx, chartArea: a, scales } = chart;
    ctx.save();
    ctx.strokeStyle = '#222';
    ctx.lineWidth = 2;
    ctx.strokeRect(a.left, a.top, a.right - a.left, a.bottom - a.top);
    // y tick labels, parallel to the axis as R draws them
    ctx.fillStyle = '#000';
    ctx.font = '30px ' + FONT;
    ctx.textAlign = 'center';
    ctx.textBaseline = 'middle';
    opts.yTicks.forEach((v, i) => {
      const lab = opts.yLabels[i];
      if (!lab) return;
      ctx.save();
      ctx.translate(a.left - 40, scales.y.getPixelForValue(v));
      ctx.rotate(-Math.PI / 2);
      ctx.fillText(lab, 0, 0);
      ctx.restore();
    });
    // legend box for PSRF panels
    if (opts.legendX != null) {
      const lx = scales.x.getPixelForValue(opts.legendX);
      const ly = scales.y.getPixelForValue(4);
      ctx.strokeStyle = '#222';
      ctx.lineWidth = 2;
      ctx.strokeRect(lx, ly, 258, 90);
      ctx.font = '25px ' + FONT;
      ctx.textAlign = 'left';
      [[legendNames[0], '#000', []], [legendNames[1], '#ff0000', [5, 4]]].forEach(([name, col, dash], k) => {
        const yy = ly + 30 + k * 30;
        ctx.beginPath();
        ctx.setLineDash(dash);
        ctx.strokeStyle = col;
        ctx.lineWidth = 2;
        ctx.moveTo(lx + 22, yy);
        ctx.lineTo(lx + 67, yy);
        ctx.stroke();
        ctx.setLineDash([]);
        ctx.fillStyle = '#000';
        ctx.fillText(name, lx + 89, yy);
      });
    }
    ctx.restore();
  }
};

function traceSets(trace, q, red) {
  const sets = [];
  red.forEach(d => sets.push({ data: d, borderColor: '#ff0000', borderWidth: 2.2, order: 1 }));
  q.forEach(d => sets.push({ data: d, borderColor: '#000', borderWidth: 2.4, order: 2 }));
  sets.push({ data: trace, borderColor: '#6f6f6f', borderWidth: 1.4, borderDash: [3, 2.5], order: 3 });
  return sets;
}
function psrfSets(med, hi) {
  return [
    { data: hi, borderColor: '#ff0000', borderWidth: 2, borderDash: [6, 4], order: 1 },
    { data: med, borderColor: '#000', borderWidth: 1.6, order: 2 },
    { data: [[-5000, 1], [50000, 1]], borderColor: '#000', borderWidth: 2, order: 3 }
  ];
}

const conX = [-1347, 35753], conPX = [-1532, 38387], cenX = [-680, 17835], cenPX = [-587, 17455];
const psrfY = [0.88, 4.12];

const panels = [
  { col: 0, row: 0, x: conX, y: [0.878, 4.122], xt: concreteIterTicks, xl: concreteIterLabels, yt: psrfTicks, yl: psrfTickLabels, title: 'log(σ)',
    sets: traceSets(conSigTrace, [conSigLo, conSigMid, conSigHi], [conSigRedLo, conSigRedMid, conSigRedHi]) },
  { col: 1, row: 0, x: conPX, y: psrfY, xt: concretePsrfIterTicks, xl: concretePsrfIterLabels, yt: psrfTicks, yl: psrfTickLabels, title: 'log(σ)',
    sets: psrfSets(conSigPsrfMed, conSigPsrf975), legendX: 15000 },
  { col: 2, row: 0, x: cenX, y: [0.838, 1.162], xt: censusIterTicks, xl: censusIterLabels, yt: cenSigTicks, yl: cenSigTickLabels, title: 'log(σ)',
    sets: traceSets(cenSigTrace, [cenSigLo, cenSigMid, cenSigHi], []) },
  { col: 3, row: 0, x: cenPX, y: psrfY, xt: censusIterTicks, xl: censusIterLabels, yt: psrfTicks, yl: psrfTickLabels, title: 'log(σ)',
    sets: psrfSets(cenSigPsrfMed, cenSigPsrf975), legendX: 5000 },

  { col: 0, row: 1, x: conX, y: [-2.916, -2.379], xt: concreteIterTicks, xl: concreteIterLabels, yt: conLamTicks, yl: conLamTickLabels, title: 'log(λ)',
    sets: traceSets(conLamTrace, [conLamLo, conLamMid, conLamHi], [conLamRedLo, conLamRedMid, conLamRedHi]) },
  { col: 1, row: 1, x: conPX, y: psrfY, xt: concretePsrfIterTicks, xl: concretePsrfIterLabels, yt: psrfTicks, yl: psrfTickLabels, title: 'log(λ)',
    sets: psrfSets(conLamPsrfMed, conLamPsrf975), legendX: 15000 },
  { col: 2, row: 1, x: cenX, y: [-1.8149, -1.6851], xt: censusIterTicks, xl: censusIterLabels, yt: cenLamTicks, yl: cenLamTickLabels, title: 'log(λ)',
    sets: traceSets(cenLamTrace, [cenLamLo, cenLamMid, cenLamHi], []) },
  { col: 3, row: 1, x: cenPX, y: psrfY, xt: censusIterTicks, xl: censusIterLabels, yt: psrfTicks, yl: psrfTickLabels, title: 'log(λ)',
    sets: psrfSets(cenLamPsrfMed, cenLamPsrf975), legendX: 5000 },

  { col: 0, row: 2, x: conX, y: [-3.651, -1.933], xt: concreteIterTicks, xl: concreteIterLabels, yt: conTauTicks, yl: conTauTickLabels, title: 'log(τ)',
    sets: traceSets(conTauTrace, [conTauLo, conTauMid, conTauHi], [conTauRedLo, conTauRedMid, conTauRedHi]) },
  { col: 1, row: 2, x: conPX, y: psrfY, xt: concretePsrfIterTicks, xl: concretePsrfIterLabels, yt: psrfTicks, yl: psrfTickLabels, title: 'log(τ)',
    sets: psrfSets(conTauPsrfMed, conTauPsrf975), legendX: 15000 },
  { col: 2, row: 2, x: cenX, y: [-0.958, -0.6895], xt: censusIterTicks, xl: censusIterLabels, yt: cenTauTicks, yl: cenTauTickLabels, title: 'log(τ)',
    sets: traceSets(cenTauTrace, [cenTauLo, cenTauMid, cenTauHi], []) },
  { col: 3, row: 2, x: cenPX, y: psrfY, xt: censusIterTicks, xl: censusIterLabels, yt: psrfTicks, yl: psrfTickLabels, title: 'log(τ)',
    sets: psrfSets(cenTauPsrfMed, cenTauPsrf975), legendX: 5000 }
];

panels.forEach(p => {
  const { L, R } = COLS[p.col];
  const T = ROWS[p.row];
  const c = document.createElement('canvas');
  c.width = (R - L) + YW + PR;
  c.height = BOX_H + PT + XH;
  c.style.left = (L - YW) + 'px';
  c.style.top = (T - PT) + 'px';
  document.body.appendChild(c);

  new Chart(c, {
    type: 'line',
    data: { datasets: p.sets },
    options: {
      responsive: false,
      animation: false,
      devicePixelRatio: 1,
      events: [],
      layout: { padding: { left: 0, top: PT, right: PR, bottom: 0 } },
      elements: { point: { radius: 0 }, line: { tension: 0, fill: false } },
      plugins: {
        legend: { display: false },
        tooltip: { enabled: false },
        frame: { yTicks: p.yt, yLabels: p.yl, legendX: p.legendX }
      },
      scales: {
        x: {
          type: 'linear', min: p.x[0], max: p.x[1],
          afterBuildTicks: s => { s.ticks = p.xt.map(v => ({ value: v })); },
          afterFit: s => { s.height = XH; },
          border: { display: false },
          grid: { drawOnChartArea: false, tickLength: 19, color: '#333', lineWidth: 2 },
          ticks: { autoSkip: false, maxRotation: 0, padding: 6, color: '#000', font: { family: FONT, size: 30 },
                   callback: (v, i) => p.xl[i] },
          title: { display: true, text: 'Iteration number', color: '#000', font: { family: FONT, size: 31 }, padding: { top: 4, bottom: 4 } }
        },
        y: {
          type: 'linear', min: p.y[0], max: p.y[1],
          afterBuildTicks: s => { s.ticks = p.yt.map(v => ({ value: v })); },
          afterFit: s => { s.width = YW; },
          border: { display: false },
          grid: { drawOnChartArea: false, tickLength: 19, color: '#333', lineWidth: 2 },
          ticks: { display: false },
          title: { display: true, text: p.title, color: '#000', font: { family: FONT, size: 30 }, padding: { top: 4, bottom: 4 } }
        }
      }
    },
    plugins: [framePlugin]
  });
});
</script>
</body>
</html>
